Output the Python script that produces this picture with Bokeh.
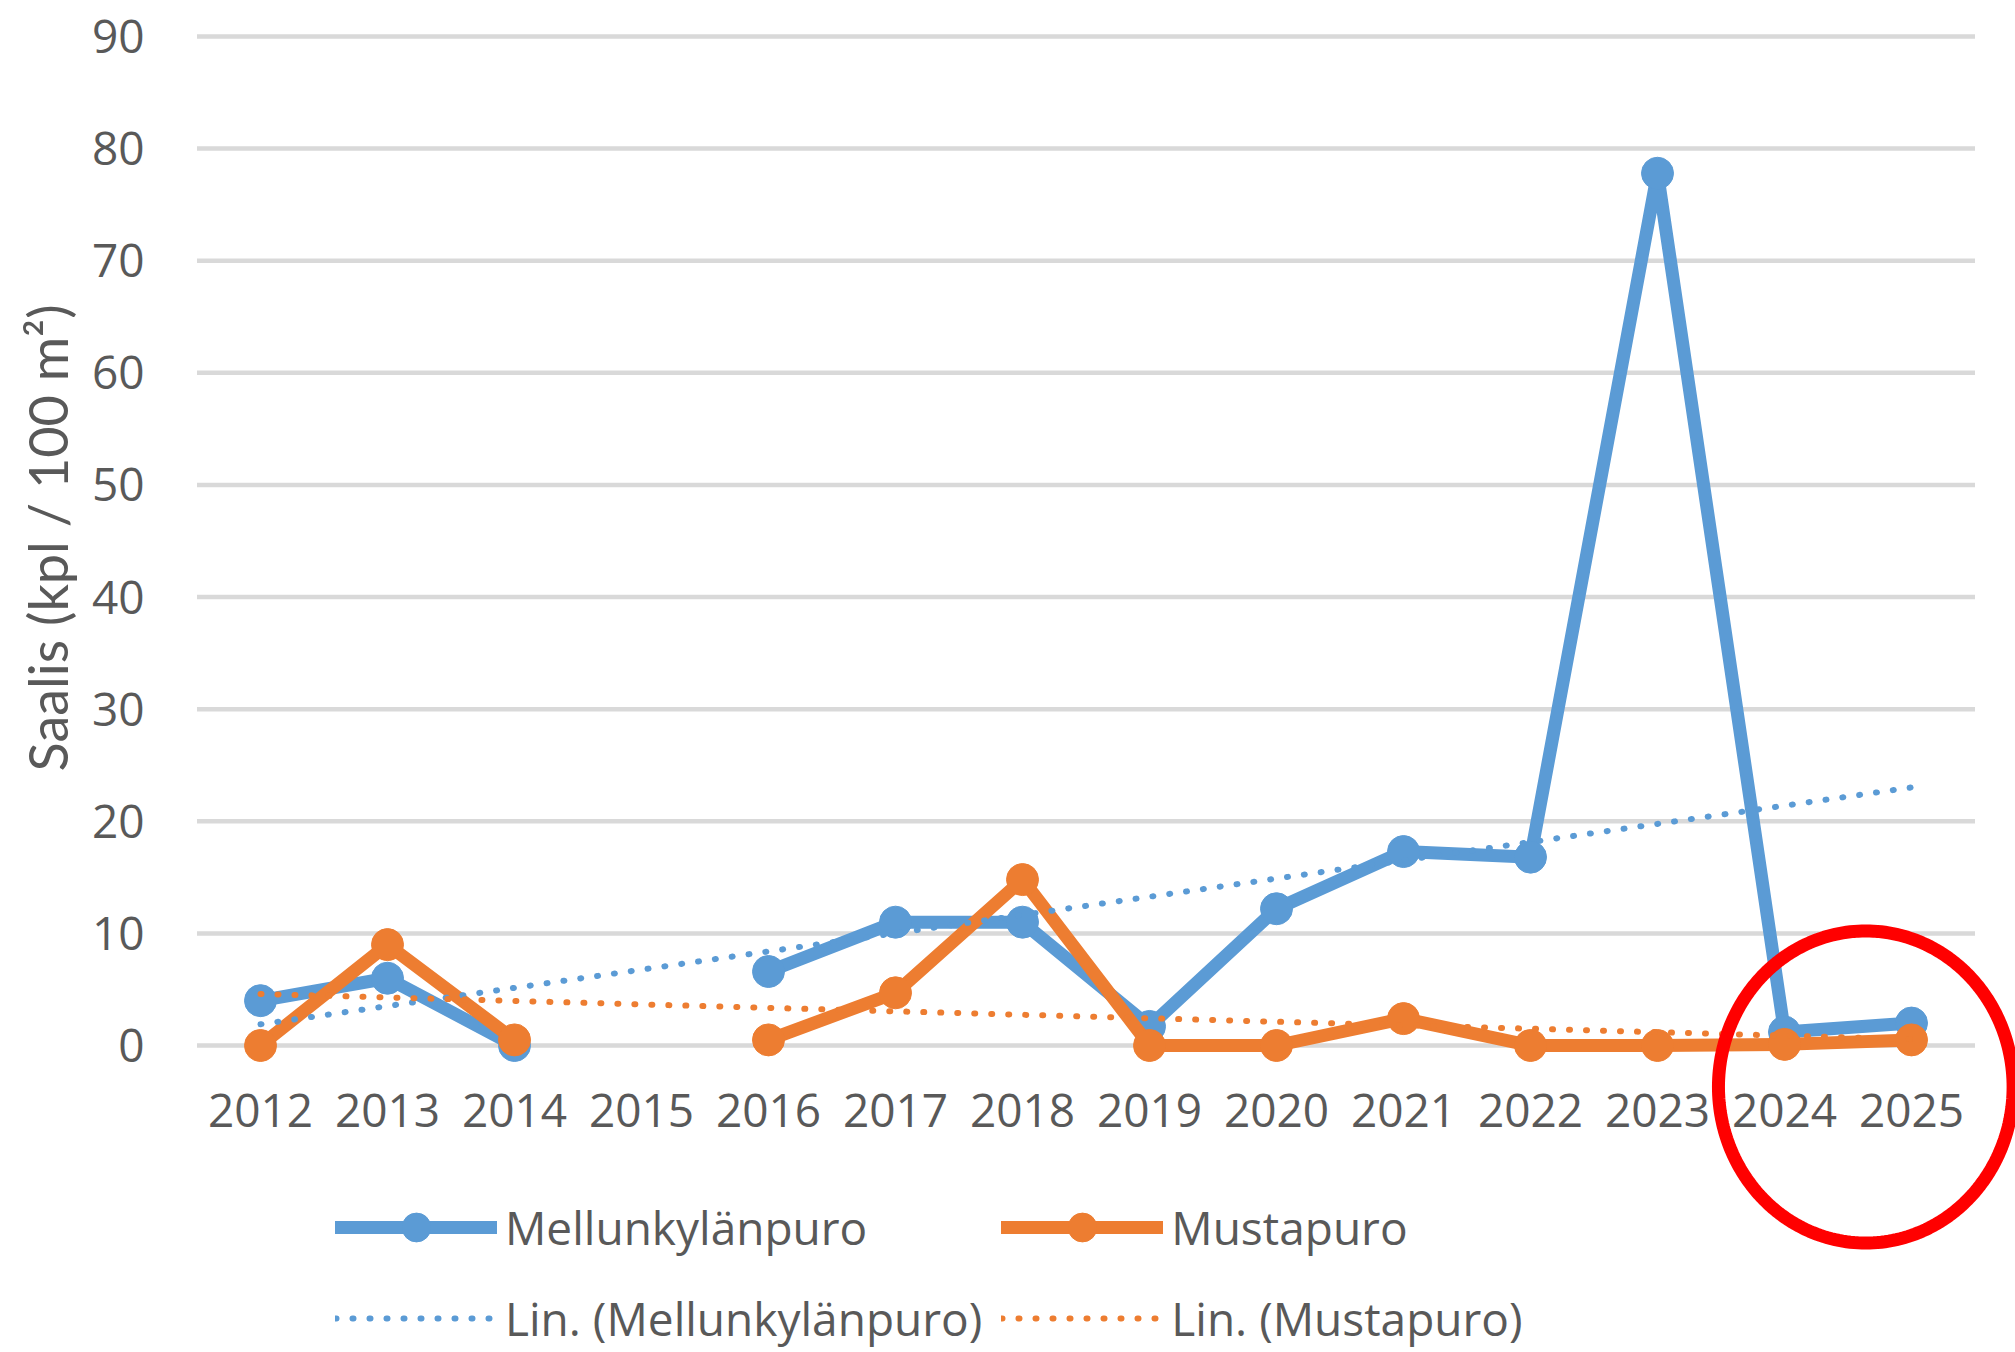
import numpy as np
from bokeh.plotting import figure
from bokeh.models import Range1d, FixedTicker, Legend, LegendItem, PolyAnnotation, Title
from bokeh.embed import file_html
from bokeh.resources import INLINE

# ---- data ----
years = [2012, 2013, 2014, 2015, 2016, 2017, 2018, 2019, 2020, 2021, 2022, 2023, 2024, 2025]
mellunkylanpuro = [4.0, 6.0, 0.0, None, 6.6, 11.0, 11.0, 1.7, 12.2, 17.3, 16.8, 77.8, 1.2, 2.0]
mustapuro = [0.0, 9.0, 0.5, None, 0.5, 4.7, 14.8, 0.0, 0.0, 2.4, 0.0, 0.0, 0.1, 0.5]
y_ticks = [0, 10, 20, 30, 40, 50, 60, 70, 80, 90]
series_names = ["Mellunkylänpuro", "Mustapuro"]
trend_names = ["Lin. (Mellunkylänpuro)", "Lin. (Mustapuro)"]
y_label = "Saalis (kpl / 100 m²)"

# highlight ring (annotation, in data units)
highlight_center = (2024.64, -3.7)
highlight_radii = (1.16, 13.92)

# ---- styles ----
BLUE = "#5B9BD5"
ORANGE = "#ED7D31"
TEXT = "#595959"
GRID = "#D9D9D9"

W, H = 2015, 1352
LEFT = 196
PX_PER_YEAR = 127.0
X0 = years[0] - 0.5 - 0.5 / PX_PER_YEAR
X1 = X0 + (W - LEFT) / PX_PER_YEAR
PX_PER_UNIT = (1045 - 36) / 90.0
Y1 = 90 + 36 / PX_PER_UNIT
Y0 = -(H - 1045) / PX_PER_UNIT

p = figure(width=W, height=H, output_backend="svg", toolbar_location=None,
           x_range=Range1d(X0, X1), y_range=Range1d(Y0, Y1),
           min_border_left=LEFT, min_border_right=0, min_border_top=0,
           min_border_bottom=0)
p.outline_line_color = None
p.background_fill_color = "white"
p.border_fill_color = "white"
p.xgrid.visible = False
p.ygrid.visible = False

# horizontal gridlines spanning the category band only
n = len(y_ticks)
p.segment(x0=[years[0] - 0.5] * n, x1=[years[-1] + 0.5] * n, y0=y_ticks, y1=y_ticks,
          line_color=GRID, line_width=4.5)

# axes
p.xaxis.ticker = FixedTicker(ticks=years)
p.xaxis.major_label_overrides = {yr: str(yr) for yr in years}
p.xaxis.fixed_location = 0
p.yaxis.ticker = FixedTicker(ticks=y_ticks)
for ax in (p.xaxis, p.yaxis):
    ax.axis_line_color = None
    ax.major_tick_line_color = None
    ax.minor_tick_line_color = None
    ax.major_label_text_font = "Open Sans"
    ax.major_label_text_font_size = "46px"
    ax.major_label_text_color = TEXT
p.xaxis.major_label_standoff = 42
p.yaxis.major_label_standoff = 46

# y-axis title, placed along the 0..90 band
ytitle = Title(text=y_label, align="left", offset=H - 771, standoff=17,
               text_font="Lato", text_font_size="54px", text_font_style="normal",
               text_color=TEXT)
p.add_layout(ytitle, "left")

x = np.array(years, dtype=float)
items_main = []
items_trend = []
trends = []
for vals, color, name, tname in zip([mellunkylanpuro, mustapuro], [BLUE, ORANGE],
                                     series_names, trend_names):
    y = np.array([np.nan if v is None else v for v in vals], dtype=float)
    lr = p.line(x, y, line_color=color, line_width=13, line_cap="round", line_join="round")
    sr = p.scatter(x, y, size=32, fill_color=color, line_color=color)
    items_main.append(LegendItem(label=name, renderers=[lr, sr]))
    ok = ~np.isnan(y)
    coef = np.polyfit(x[ok], y[ok], 1)
    tx = np.array([years[0], years[-1]], dtype=float)
    trends.append((tx, np.polyval(coef, tx), color, tname))

for tx, ty, color, tname in trends:
    tr = p.line(tx, ty, line_color=color, line_width=6, line_dash="1 16", line_cap="round")
    items_trend.append(LegendItem(label=tname, renderers=[tr]))

legend = Legend(items=items_main + items_trend, location=(139, -2),
                orientation="horizontal", ncols=2,
                glyph_width=162, glyph_height=72, label_standoff=8, spacing=19,
                padding=0, margin=0, border_line_color=None, background_fill_alpha=0,
                label_text_font="Open Sans", label_text_font_size="46px",
                label_text_color=TEXT)
p.add_layout(legend)

theta = np.linspace(0, 2 * np.pi, 241)
cx, cy = highlight_center
rx, ry = highlight_radii
ring = PolyAnnotation(xs=list(cx + rx * np.cos(theta)), ys=list(cy + ry * np.sin(theta)),
                      xs_units="data", ys_units="data", fill_alpha=0,
                      line_color="#FF0000", line_alpha=1.0, line_width=13, level="overlay")
p.add_layout(ring)

open("out.html", "w").write(file_html(p, INLINE))
